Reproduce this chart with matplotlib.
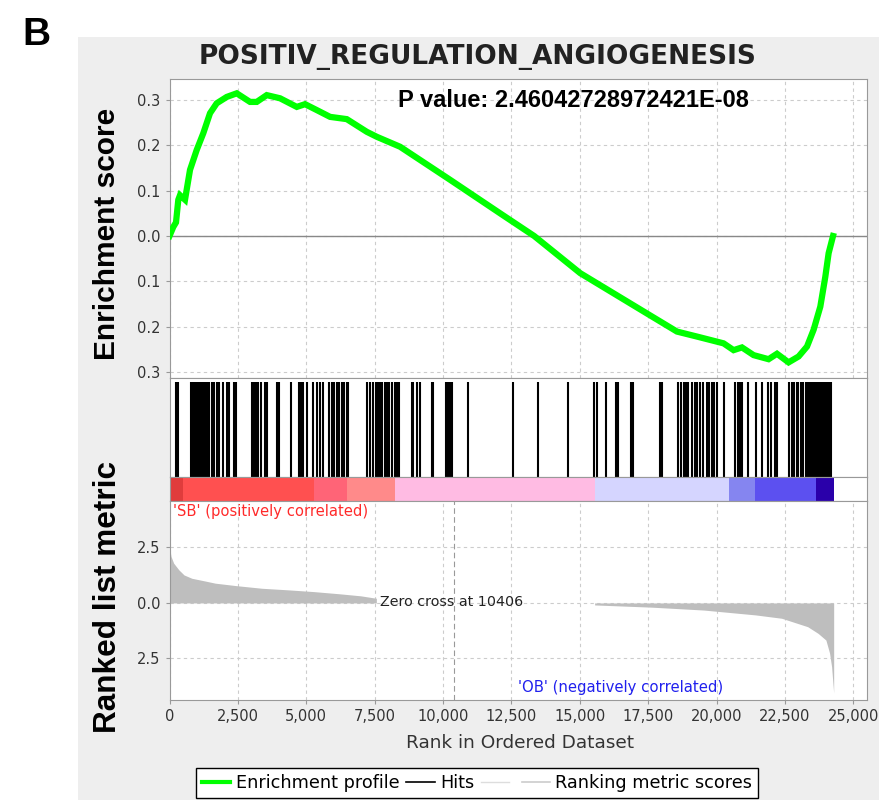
import matplotlib.pyplot as plt
from matplotlib.lines import Line2D
from matplotlib.patches import Rectangle

# 富集曲线: 排名位置与富集分数
es_rank = [0, 139, 238, 322, 384, 567, 750, 995, 1236, 1481,
           1726, 2092, 2458, 2944, 3189, 3555, 4042, 4653, 4956, 5384,
           5870, 6481, 7213, 7579, 8431, 10260, 12088, 13332, 15015, 17454,
           18552, 19283, 20256, 20622, 20929, 21354, 21902, 22209, 22633, 22999,
           23307, 23548, 23793, 23976, 24097, 24258]
es_score = [0.0, 0.02, 0.03, 0.08, 0.09, 0.08, 0.146, 0.19, 0.227, 0.271,
            0.293, 0.307, 0.315, 0.296, 0.296, 0.311, 0.304, 0.285, 0.291, 0.278,
            0.263, 0.258, 0.23, 0.219, 0.197, 0.124, 0.05, 0.0, -0.082, -0.171,
            -0.211, -0.222, -0.237, -0.252, -0.246, -0.263, -0.272, -0.26, -0.279, -0.266,
            -0.244, -0.207, -0.156, -0.09, -0.038, 0.0]

# 基因集命中位置
hits = [227, 322, 775, 849, 933, 995, 1079, 1141, 1236, 1298, 1361, 1456, 1544, 1628,
        1726, 1811, 1946, 2092, 2176, 2359, 2432, 3007, 3091, 3164, 3248, 3336, 3504,
        3577, 3921, 4016, 4455, 4737, 4810, 4894, 5018, 5260, 5406, 5505, 5625, 5845,
        5933, 6017, 6116, 6211, 6309, 6394, 6481, 6540, 7235, 7333, 7454, 7542, 7615,
        7699, 7783, 7882, 7944, 8028, 8149, 8248, 8310, 8394, 8859, 8917, 9042, 9162,
        9590, 9649, 10102, 10176, 10260, 10344, 10929, 12553, 13478, 14576, 15527,
        15625, 15955, 16321, 16394, 16880, 16953, 17941, 18014, 18600, 18709, 18819,
        18892, 18965, 19111, 19221, 19294, 19404, 19514, 19649, 19733, 19832, 19916,
        20015, 20282, 20684, 20783, 20867, 20929, 21160, 21452, 21661, 21891, 21990,
        22147, 22220, 22659, 22758, 22842, 22941, 22988, 23087, 23171, 23280, 23360,
        23410, 23460, 23500, 23550, 23600, 23650, 23700, 23740, 23790, 23840, 23890,
        23940, 23990, 24040, 24090, 24140, 24180]

# 排序指标 (正相关 / 负相关部分)
pos_rank = [0, 57, 152, 342, 532, 817, 1292, 1672, 2432, 3382, 4332, 5282, 6232, 6992, 7562]
pos_metric = [2.55, 2.09, 1.79, 1.49, 1.26, 1.11, 0.99, 0.89, 0.78, 0.66, 0.59, 0.51, 0.41, 0.32, 0.21]
neg_rank = [15542, 17632, 19532, 21432, 22382, 23332, 23712, 23997, 24130, 24206, 24282]
neg_metric = [-0.09, -0.19, -0.32, -0.54, -0.69, -1.07, -1.37, -1.67, -2.25, -2.87, -4.05]
zero_cross = 10406

# 颜色条分段
cb_edges = [0, 500, 5300, 6500, 8250, 15550, 20450, 21400, 23620, 24280]
cb_colors = ["#e03c3c", "#ff5050", "#ff6477", "#ff8a8a", "#ffbbe3",
             "#d5d5ff", "#8585f0", "#5c50f0", "#2a00aa"]

x_ticks = list(range(0, 25001, 2500))
x_labels = ["{:,}".format(t) for t in x_ticks]
es_ticks = [-0.3, -0.2, -0.1, 0.0, 0.1, 0.2, 0.3]
es_labels = ["0.3", "0.2", "0.1", "0.0", "0.1", "0.2", "0.3"]
metric_ticks = [-2.5, 0.0, 2.5]
metric_labels = ["2.5", "0.0", "2.5"]

grid_kw = dict(color="#cccccc", linestyle=(0, (3, 3)), linewidth=0.8)
frame = "#999999"
txt = "#333333"
X_MAX = 25500

fig = plt.figure(figsize=(8.94, 8.0), dpi=100)
fig.patches.append(Rectangle((78 / 894, 0), 801 / 894, 763 / 800, transform=fig.transFigure,
                             facecolor="#eeeeee", edgecolor="none", zorder=-1))


def style(ax):
    for s in ax.spines.values():
        s.set_color(frame)
    ax.tick_params(colors=frame, labelcolor=txt, labelsize=10.5, length=3, width=0.8)
    ax.set_xlim(0, X_MAX)


#  富集分数面板
ax1 = fig.add_axes([0.1896, 0.5275, 0.7802, 0.37375])
style(ax1)
ax1.plot(es_rank, es_score, color="#00ff00", lw=4.5, solid_joinstyle="miter", zorder=3)
ax1.axhline(0, color="#888888", lw=1, zorder=2)
ax1.set_ylim(-0.3135, 0.3466)
ax1.set_yticks(es_ticks, es_labels)
ax1.set_xticks(x_ticks)
ax1.tick_params(axis="x", length=0, labelbottom=False)
ax1.grid(**grid_kw)
ax1.set_axisbelow(True)
ax1.text(8360, 0.300, "P value: 2.46042728972421E-08", fontsize=17, fontweight="bold",
         family="Liberation Sans", va="center", ha="left")

#  命中位置面板
ax2 = fig.add_axes([0.1896, 0.40375, 0.7802, 0.12375])
style(ax2)
ax2.vlines(hits, 0, 0.96, color="black", lw=1.5)
ax2.set_ylim(0, 1)
ax2.set_xticks([])
ax2.set_yticks([])

#  颜色条
ax3 = fig.add_axes([0.1896, 0.37375, 0.7802, 0.03])
style(ax3)
for i in range(len(cb_colors)):
    ax3.broken_barh([(cb_edges[i], cb_edges[i + 1] - cb_edges[i])], (0, 1), facecolor=cb_colors[i])
ax3.set_ylim(0, 1)
ax3.set_xticks([])
ax3.set_yticks([])

#  排序指标面板
ax4 = fig.add_axes([0.1896, 0.125, 0.7802, 0.24875])
style(ax4)
ax4.fill_between(pos_rank, 0, pos_metric, color="#bebebe", lw=0, zorder=2)
ax4.fill_between(neg_rank, 0, neg_metric, color="#bebebe", lw=0, zorder=2)
ax4.axvline(zero_cross, color="#999999", lw=0.8, linestyle=(0, (5, 3)), zorder=1)
ax4.set_ylim(-4.37, 4.59)
ax4.set_yticks(metric_ticks, metric_labels)
ax4.set_xticks(x_ticks, x_labels)
ax4.grid(**grid_kw)
ax4.set_axisbelow(True)
ax4.text(7700, 0.05, "Zero cross at {}".format(zero_cross), fontsize=10.3, color="#222222",
         va="center", ha="left", zorder=4)
ax4.text(120, 4.1, "'SB' (positively correlated)", fontsize=10.6, color="#ff2a2a",
         va="center", ha="left")
ax4.text(12750, -3.8, "'OB' (negatively correlated)", fontsize=10.7, color="#2020ee",
         va="center", ha="left")

#  标题与坐标轴名
fig.text(22 / 894, 1 - 45 / 800, "B", fontsize=28, fontweight="bold", family="Liberation Sans",
         ha="left", va="baseline")
fig.text(478 / 894, 1 - 57 / 800, "POSITIV_REGULATION_ANGIOGENESIS", fontsize=19,
         fontweight="bold", color="#222222", ha="center", va="center")
fig.text(107 / 894, 1 - 234 / 800, "Enrichment score", fontsize=21.5, fontweight="bold",
         family="Liberation Sans", rotation=90, ha="center", va="center")
fig.text(108 / 894, 1 - 597 / 800, "Ranked list metric", fontsize=22.7, fontweight="bold",
         family="Liberation Sans", rotation=90, ha="center", va="center")
fig.text(520 / 894, 1 - 743 / 800, "Rank in Ordered Dataset", fontsize=13.3, color=txt,
         ha="center", va="center")

#  图例
handles = [Line2D([], [], color="#00ff00", lw=3),
           Line2D([], [], color="black", lw=1.2),
           Line2D([], [], color="#dddddd", lw=1),
           Line2D([], [], color="#cccccc", lw=1.2)]
labels = ["Enrichment profile", "Hits", "", "Ranking metric scores"]
fig.legend(handles, labels, loc="upper left", bbox_to_anchor=(196 / 894, 1 - 768 / 800),
           ncol=4, fontsize=12.7, frameon=True, fancybox=False, edgecolor="black",
           framealpha=1, handlelength=1.6, handletextpad=0.3, columnspacing=0.4,
           borderpad=0.35, borderaxespad=0)

plt.savefig("out.png", dpi=100)
